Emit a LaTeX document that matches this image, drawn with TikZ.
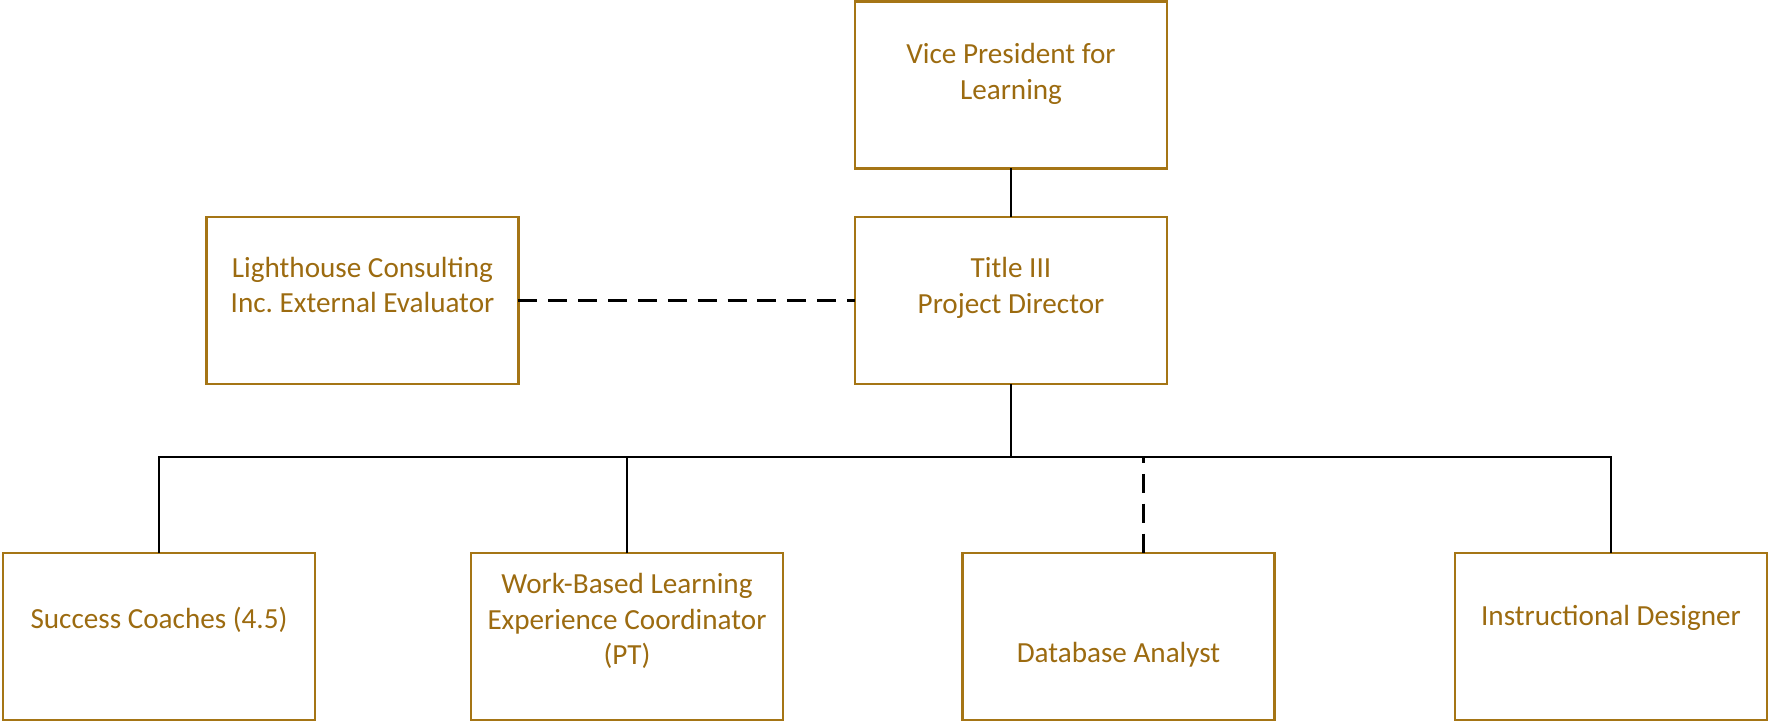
\documentclass[tikz,border=0pt]{standalone}
\usepackage{fontspec}
\setmainfont{Carlito}
\definecolor{BoxGold}{HTML}{A57515}
\definecolor{TextGold}{HTML}{9C6B10}

\begin{document}
\begin{tikzpicture}[x=0.02cm, y=-0.02cm,
    role/.style={draw=BoxGold, line width=1.2pt, minimum width=6.24cm,
      minimum height=3.34cm, inner sep=0pt, outer sep=0pt},
    roletext/.style={text=TextGold, align=center, inner sep=0pt,
      font=\fontsize{16.6}{20.4}\selectfont},
    link/.style={line width=1.6pt, black},
    dashlink/.style={link, dash pattern=on 10.8pt off 6.2pt}]
  \useasboundingbox (0,0) rectangle (1769,722);
  % Boxes
  \node[role] (vp) at (1011,85) {};
  \node[role] (director) at (1011,300.5) {};
  \node[role] (evaluator) at (362.5,300.5) {};
  \node[role] (coaches) at (159,636.5) {};
  \node[role] (wbl) at (627,636.5) {};
  \node[role] (analyst) at (1118.5,636.5) {};
  \node[role] (designer) at (1611,636.5) {};
  % Labels
  \node[roletext] (vptext) at (1011,74) {Vice President for\\Learning};
  \node[roletext] (directortext) at (1011,288) {Title III\\Project Director};
  \node[roletext] (evaluatortext) at (362.5,285)
    {Lighthouse Consulting\\Inc.\ External Evaluator};
  \node[roletext] (coachestext) at (159,620) {Success Coaches (4.5)};
  \node[roletext] (wbltext) at (627,621)
    {Work-Based Learning\\Experience Coordinator\\(PT)};
  \node[roletext] (analysttext) at (1118.5,655) {Database Analyst};
  \node[roletext] (designertext) at (1611,618) {Instructional Designer};
  % Connectors
  \coordinate (bus) at (1011,457);
  \draw[link] (vp.south) -- (director.north);
  \draw[dashlink] (evaluator.east) -- (director.west);
  \draw[link] (director.south) -- (bus);
  \draw[link] (coaches.north) |- (bus) -| (designer.north);
  \draw[link] (wbl.north) -- (wbl.north |- bus);
  \draw[dashlink] (bus) -| ([xshift=0.5cm]analyst.north);
\end{tikzpicture}
\end{document}
